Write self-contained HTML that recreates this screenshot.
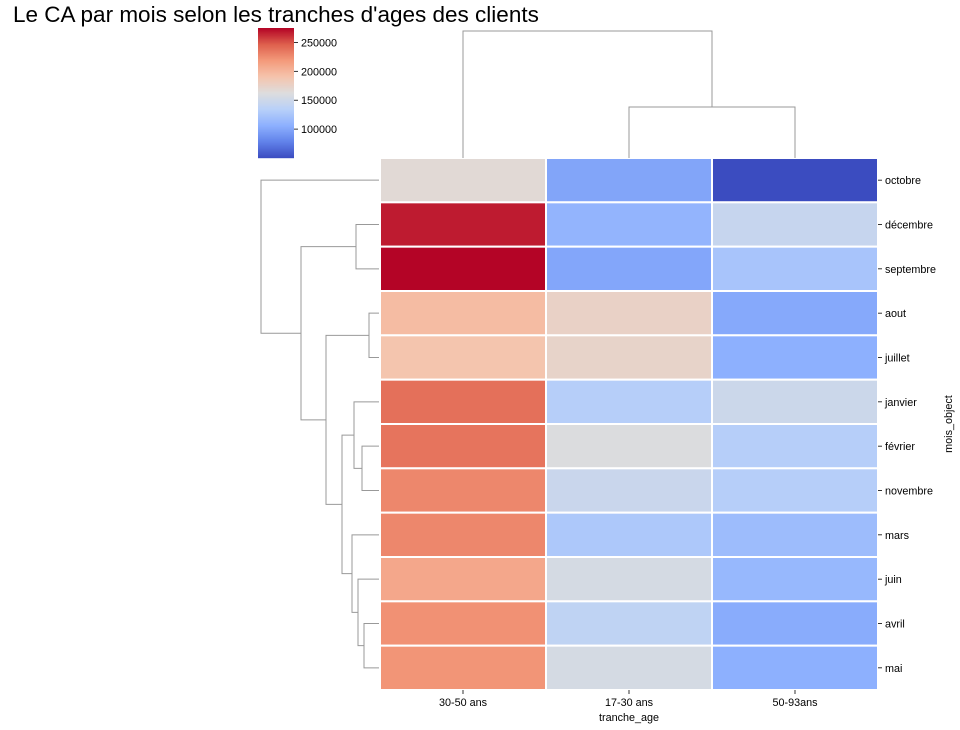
<!DOCTYPE html>
<html><head><meta charset="utf-8">
<style>
html,body{margin:0;padding:0;background:#fff;}
svg{display:block;font-family:"Liberation Sans","DejaVu Sans",sans-serif;}
</style></head>
<body>
<svg id="chart" width="960" height="730">
<text x="13" y="22" font-size="22.5" fill="#000">Le CA par mois selon les tranches d'ages des clients</text>
</svg>
<script>
const months = ["octobre","décembre","septembre","aout","juillet","janvier","février","novembre","mars","juin","avril","mai"];
const groups = ["30-50 ans","17-30 ans","50-93ans"];
const ca3050 = [167000,268000,275000,196000,190000,239000,237000,228000,228000,210000,223000,221000];
const ca1730 = [99500,110000,100000,176000,174000,133000,161000,147000,127000,156000,140000,156000];
const ca5093 = [50000,145000,124000,102000,106000,149000,133000,133000,117000,113000,104000,106000];
const cbTicks = [100000,150000,200000,250000];
const vmin = 50000, vmax = 275000;
// row linkage: [nodeA, nodeB, distance]; leaves 0..11, new nodes 12+
const rowLinks = [[1,2,23],[3,4,10],[6,7,17],[5,14,25],[10,11,15],[9,16,21],[8,17,27],[15,18,37],[13,19,53],[12,20,78],[0,21,118]];
// col linkage
const colLinks = [[1,2,51],[0,3,127]];

const NS="http://www.w3.org/2000/svg";
const svg=document.getElementById('chart');
function mk(t,a){const e=document.createElementNS(NS,t);for(const k in a)e.setAttribute(k,a[k]);svg.appendChild(e);return e;}
const stops=[[0,59,76,192],[0.125,97,130,234],[0.25,141,176,254],[0.375,184,208,249],[0.5,221,221,221],[0.625,245,196,173],[0.75,244,154,123],[0.875,222,96,77],[1,180,4,38]];
function cmap(v){let t=(v-vmin)/(vmax-vmin);t=Math.max(0,Math.min(1,t));
 for(let i=1;i<stops.length;i++){if(t<=stops[i][0]){const a=stops[i-1],b=stops[i];const f=(t-a[0])/(b[0]-a[0]);
 return `rgb(${Math.round(a[1]+f*(b[1]-a[1]))},${Math.round(a[2]+f*(b[2]-a[2]))},${Math.round(a[3]+f*(b[3]-a[3]))})`;}}return 'rgb(180,4,38)';}
const X0=380,X1=878,Y0=158,Y1=690;
const cw=(X1-X0)/groups.length, rh=(Y1-Y0)/months.length;
const xc=i=>X0+cw*(i+0.5), yc=i=>Y0+rh*(i+0.5);
const cols=[ca3050,ca1730,ca5093];
for(let c=0;c<groups.length;c++){for(let r=0;r<months.length;r++){
 const e=mk('rect',{x:X0+cw*c,y:Y0+rh*r,width:cw,height:rh,fill:cmap(cols[c][r]),stroke:'#fff','stroke-width':2});
 
 }}
for(let r=0;r<months.length;r++){
 mk('line',{x1:X1,x2:X1+4,y1:yc(r),y2:yc(r),stroke:'#000','stroke-width':0.8});
 const t=mk('text',{x:885,y:yc(r)+4,'font-size':10.8,fill:'#000'});t.textContent=months[r];
 
 }
for(let c=0;c<groups.length;c++){
 mk('line',{x1:xc(c),x2:xc(c),y1:Y1,y2:Y1+4,stroke:'#000','stroke-width':0.8});
 const t=mk('text',{x:xc(c),y:706,'font-size':10.8,fill:'#000','text-anchor':'middle'});t.textContent=groups[c];
 
 }
let t=mk('text',{x:629,y:721,'font-size':10.8,'text-anchor':'middle'});t.textContent='tranche_age';

t=mk('text',{x:952,y:424,'font-size':10.8,'text-anchor':'middle',transform:'rotate(-90 952 424)'});t.textContent='mois_object';

(function(){const pos=months.map((m,i)=>yc(i));const h=months.map(()=>0);
 rowLinks.forEach(l=>{const [a,b,d]=l;const xa=X0-1-h[a],xb=X0-1-h[b],xn=X0-1-d;
  const p=mk('path',{d:`M${xa},${pos[a]}H${xn}V${pos[b]}H${xb}`,fill:'none',stroke:'#999','stroke-width':1});
  
  pos.push((pos[a]+pos[b])/2);h.push(d);});})();
(function(){const pos=groups.map((g,i)=>xc(i));const h=groups.map(()=>0);
 colLinks.forEach(l=>{const [a,b,d]=l;const ya=Y0-h[a],yb=Y0-h[b],yn=Y0-d;
  const p=mk('path',{d:`M${pos[a]},${ya}V${yn}H${pos[b]}V${yb}`,fill:'none',stroke:'#999','stroke-width':1});
  
  pos.push((pos[a]+pos[b])/2);h.push(d);});})();
const CX=258,CW=36,CY0=28,CY1=158;
const cy=v=>CY1-(v-vmin)/(vmax-vmin)*(CY1-CY0);
for(let i=0;i<130;i++){const v=vmin+(i+0.5)/130*(vmax-vmin);
 mk('rect',{x:CX,y:CY1-(i+1),width:CW,height:1.2,fill:cmap(v)});}
const cb=mk('rect',{x:CX,y:CY0,width:CW,height:CY1-CY0,fill:'none'});

cbTicks.forEach(v=>{mk('line',{x1:CX+CW,x2:CX+CW+4,y1:cy(v),y2:cy(v),stroke:'#000','stroke-width':0.8});
 const t=mk('text',{x:CX+CW+7,y:cy(v)+4,'font-size':10.8});t.textContent=v;
 });
</script>
</body></html>
